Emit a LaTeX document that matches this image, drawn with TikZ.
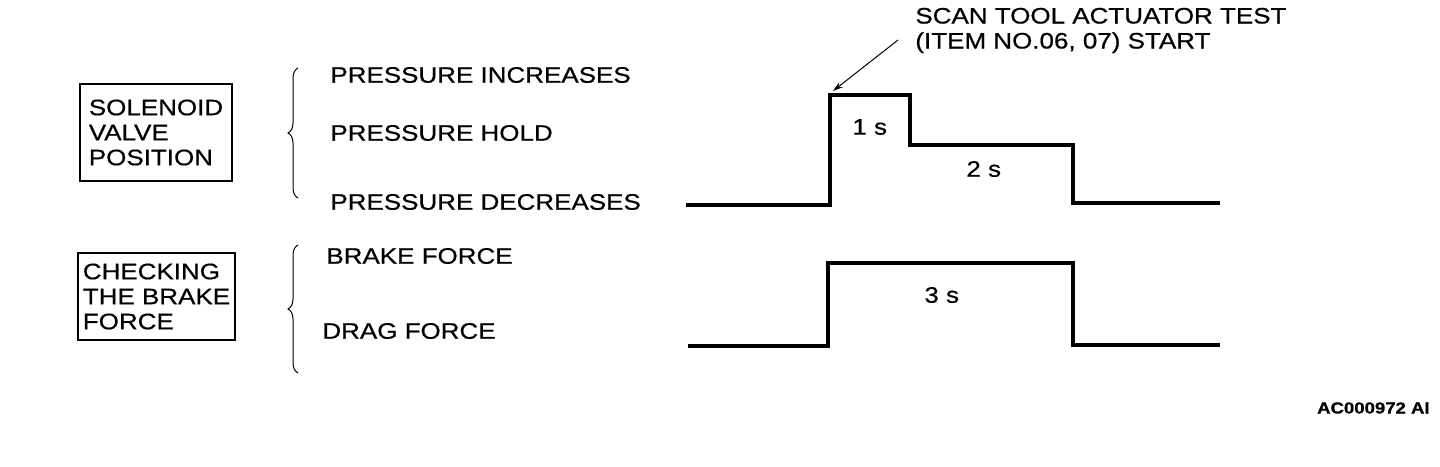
\documentclass[tikz,border=0pt]{standalone}
\usepackage{fontspec}
\newfontfamily\diafont{Liberation Sans}[FakeStretch=1.16, FakeBold=0.6]
\usetikzlibrary{arrows.meta, decorations.pathreplacing}

\begin{document}
\begin{tikzpicture}[
  x=0.5pt, y=-0.5pt,
  lbl/.style={anchor=west, inner sep=0pt, font=\diafont\fontsize{11.2}{12.5}\selectfont},
  tbox/.style={draw, line width=0.8pt, align=left, inner sep=0pt, font=\diafont\fontsize{11.2}{12.5}\selectfont},
  wave/.style={line width=1.9pt, line join=miter},
  curly/.style={decorate, decoration={brace, amplitude=5pt}, line width=0.5pt}
]
  \useasboundingbox (0,0) rectangle (1440,466);

  \node[tbox, minimum width=76pt, minimum height=48.5pt] (solbox) at (156,132.5) {SOLENOID\\VALVE\\POSITION};
  \node[tbox, minimum width=78.5pt, minimum height=43.5pt] (chkbox) at (156.5,296.5) {CHECKING\\THE BRAKE\\FORCE};

  \draw[curly] (298,198) -- (298,68);
  \draw[curly] (298,373) -- (298,245);

  \node[lbl] (inc) at (330,75) {PRESSURE INCREASES};
  \node[lbl] (hold) at (330,133) {PRESSURE HOLD};
  \node[lbl] (dec) at (330,202) {PRESSURE DECREASES};
  \node[lbl] (brake) at (326,256) {BRAKE FORCE};
  \node[lbl] (drag) at (322,331) {DRAG FORCE};

  \draw[wave] (686,205) -- (830,205) -- (830,95) -- (910,95) -- (910,145)
    -- (1073,145) -- (1073,203) -- (1220,203);
  \draw[wave] (688,346) -- (828,346) -- (828,263) -- (1073,263) -- (1073,345) -- (1220,345);

  \node[lbl] (one) at (852,127) {1 s};
  \node[lbl] (two) at (966,169) {2 s};
  \node[lbl] (three) at (924,295) {3 s};

  \node[lbl, align=left] (scan) at (915,30.5) {SCAN TOOL ACTUATOR TEST\\(ITEM NO.06, 07) START};
  \coordinate (start) at (833,91);
  \draw[line width=0.5pt, -{Stealth[length=5pt, width=3pt]}] (898,40) -- (start);

  \node[anchor=east, inner sep=0pt, font=\diafont\bfseries\fontsize{8}{9}\selectfont] (code) at (1430,408) {AC000972 AI};
\end{tikzpicture}
\end{document}
